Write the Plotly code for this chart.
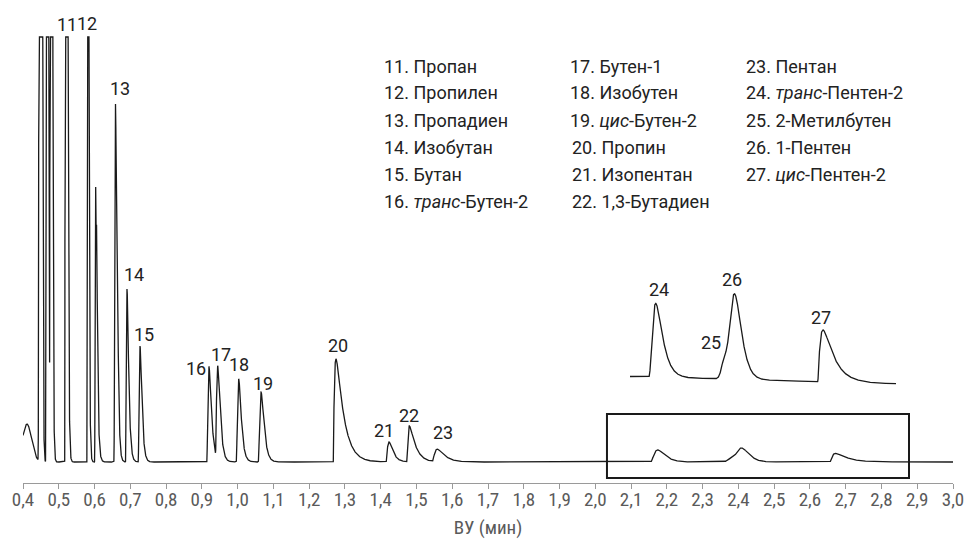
import numpy as np
import plotly.graph_objects as go

# ---------------- data ----------------
# unlabelled / off-scale features (solvent front, saturated composite peaks, shoulders)
extra_rt    = [0.4110, 0.44836, 0.4657, 0.47716, 0.60324, 0.60659, 0.6636]
extra_h     = [38, 10000, 10000, 10000, 275, 105, 110]
extra_sigma = [0.013, 0.0022, 0.0015, 0.0015, 0.0018, 0.0018, 0.002]
extra_tau   = [0.0, 0.0008, 0.00136, 0.0013, 0.0015, 0.003, 0.003]

# numbered peaks
peak_no    = [11, 12, 13, 14, 15, 16, 17, 18, 19, 20, 21, 22, 23, 24, 25, 26, 27]
peak_rt    = [0.51993, 0.58023, 0.65857, 0.69074, 0.72708, 0.91998, 0.94430, 1.00300,
              1.06550, 1.27500, 1.42320, 1.48000, 1.55830, 2.17440, 2.38100, 2.40850, 2.67150]
peak_h     = [5000, 3000, 358, 173, 116, 95, 93, 83, 70, 103, 20, 36, 12.5, 12.1, 4.0, 14.0, 8.5]
peak_sigma = [0.0018, 0.0012, 0.0025, 0.003, 0.0035, 0.0045, 0.0045, 0.0048, 0.0055, 0.009,
              0.0067, 0.0078, 0.0118, 0.014, 0.009, 0.016, 0.016]
peak_tau   = [0.0015, 0.0015, 0.002, 0.0036, 0.004, 0.0055, 0.0055, 0.0055, 0.0065, 0.020,
              0.0098, 0.0154, 0.0179, 0.016, 0.0, 0.012, 0.030]

compound_names = ["Пропан", "Пропилен", "Пропадиен", "Изобутан", "Бутан",
                  "<i>транс</i>-Бутен-2", "Бутен-1", "Изобутен", "<i>цис</i>-Бутен-2",
                  "Пропин", "Изопентан", "1,3-Бутадиен", "Пентан",
                  "<i>транс</i>-Пентен-2", "2-Метилбутен", "1-Пентен", "<i>цис</i>-Пентен-2"]

inset_peaks = [24, 25, 26, 27]
detector_limit = 425      # flat tops of off-scale peaks
inset_gain = 6.1          # vertical magnification of the inset
inset_t0, inset_t1 = 2.098, 2.8885
inset_base0, inset_drift = 85.5, 9.2
x_title = "ВУ (мин)"

# ---------------- signal model ----------------
def egh(t, mu, h, s, tau):
    d = t - mu
    den = 2 * s * s + tau * d
    out = np.zeros_like(t)
    m = den > 0
    out[m] = h * np.exp(-d[m] ** 2 / den[m])
    return out

def signal(t):
    y = np.zeros_like(t)
    for mu, h, s, tau in zip(extra_rt, extra_h, extra_sigma, extra_tau):
        y += egh(t, mu, h, s, tau)
    for mu, h, s, tau in zip(peak_rt, peak_h, peak_sigma, peak_tau):
        y += egh(t, mu, h, s, tau)
    return y

t = np.linspace(0.4, 3.0, 26001)
y_main = np.minimum(signal(t), detector_limit)

ti = t[(t >= inset_t0) & (t <= inset_t1)]
y_inset = inset_base0 - inset_drift * (ti - inset_t0) + inset_gain * signal(ti)

# ---------------- figure ----------------
fig = go.Figure()
fig.add_trace(go.Scatter(x=t, y=y_main, mode="lines",
                         line=dict(color="#1a1a1a", width=1.3), hoverinfo="skip"))
fig.add_trace(go.Scatter(x=ti, y=y_inset, mode="lines", xaxis="x2", yaxis="y",
                         line=dict(color="#1a1a1a", width=1.3), hoverinfo="skip"))

label_font = dict(family="Roboto, sans-serif", size=18, color="#222222")

# label offsets from peak apex (pixels: dx right, dy up)
label_offsets = {11: (0.8, 13), 12: (-0.3, 14), 13: (4.5, 16), 14: (6.5, 15), 15: (4, 12),
                 16: (-13, -1), 17: (3.3, 15), 18: (0.3, 15), 19: (2, 9), 20: (2, 13.3),
                 21: (-5, 12), 22: (-0.3, 10.3), 23: (5.7, 17),
                 24: (3, 14.3), 25: (-14, 12), 26: (-2.2, 14), 27: (-1.8, 12.6)}

annotations = []
for no, rt, h in zip(peak_no, peak_rt, peak_h):
    dx, dy = label_offsets[no]
    if no in inset_peaks:
        xref = "x2"
        yv = inset_base0 - inset_drift * (rt - inset_t0) + inset_gain * h
    else:
        xref = "x"
        yv = min(h, detector_limit)
    annotations.append(dict(x=rt, y=yv, xref=xref, yref="y", text=str(no),
                            showarrow=False, xshift=dx, yshift=dy,
                            xanchor="center", yanchor="middle", font=label_font))

# legend block of compound names (three columns)
col_x = [1.4036, 1.9227, 2.4147]
row_y = [396, 369.3, 342, 314.7, 287.7, 260.3]
for i, (no, name) in enumerate(zip(peak_no, compound_names)):
    col = 0 if i < 6 else (1 if i < 12 else 2)
    row = i if i < 6 else (i - 6 if i < 12 else i - 12)
    xs = col_x[col] + (0.0065 if (col == 1 and row >= 3) else 0.0)
    annotations.append(dict(x=xs, y=row_y[row], xref="x", yref="y",
                            text=f"{no}. {name}", showarrow=False,
                            xanchor="left", yanchor="middle", font=label_font))

axis_font = dict(family="Liberation Sans Narrow, Roboto Condensed, DejaVu Sans Condensed, sans-serif",
                 size=19, color="#5a5a5a")

fig.update_layout(
    width=967, height=540,
    margin=dict(l=23, r=14, t=20, b=57),
    paper_bgcolor="white", plot_bgcolor="white",
    showlegend=False,
    separators=", ",
    xaxis=dict(range=[0.4, 3.0], dtick=0.1, tick0=0.4, tickformat=".1f",
               automargin=False, ticklabelstandoff=-6,
               showgrid=False, zeroline=False, showline=True, linecolor="#9a9a9a",
               linewidth=1, ticks="outside", ticklen=5, tickcolor="#9a9a9a",
               tickfont=axis_font,
               title=dict(text=x_title, font=axis_font, standoff=10)),
    xaxis2=dict(overlaying="x", anchor="y", range=[0.2942, 3.0579], visible=False),
    yaxis=dict(range=[-21, 442], visible=False, automargin=False),
    annotations=annotations,
    shapes=[dict(type="rect", xref="x", yref="y", x0=2.0326, x1=2.877, y0=-16, y1=48,
                 line=dict(color="#1a1a1a", width=2), fillcolor="rgba(0,0,0,0)")],
)

fig.write_html("out.html")
